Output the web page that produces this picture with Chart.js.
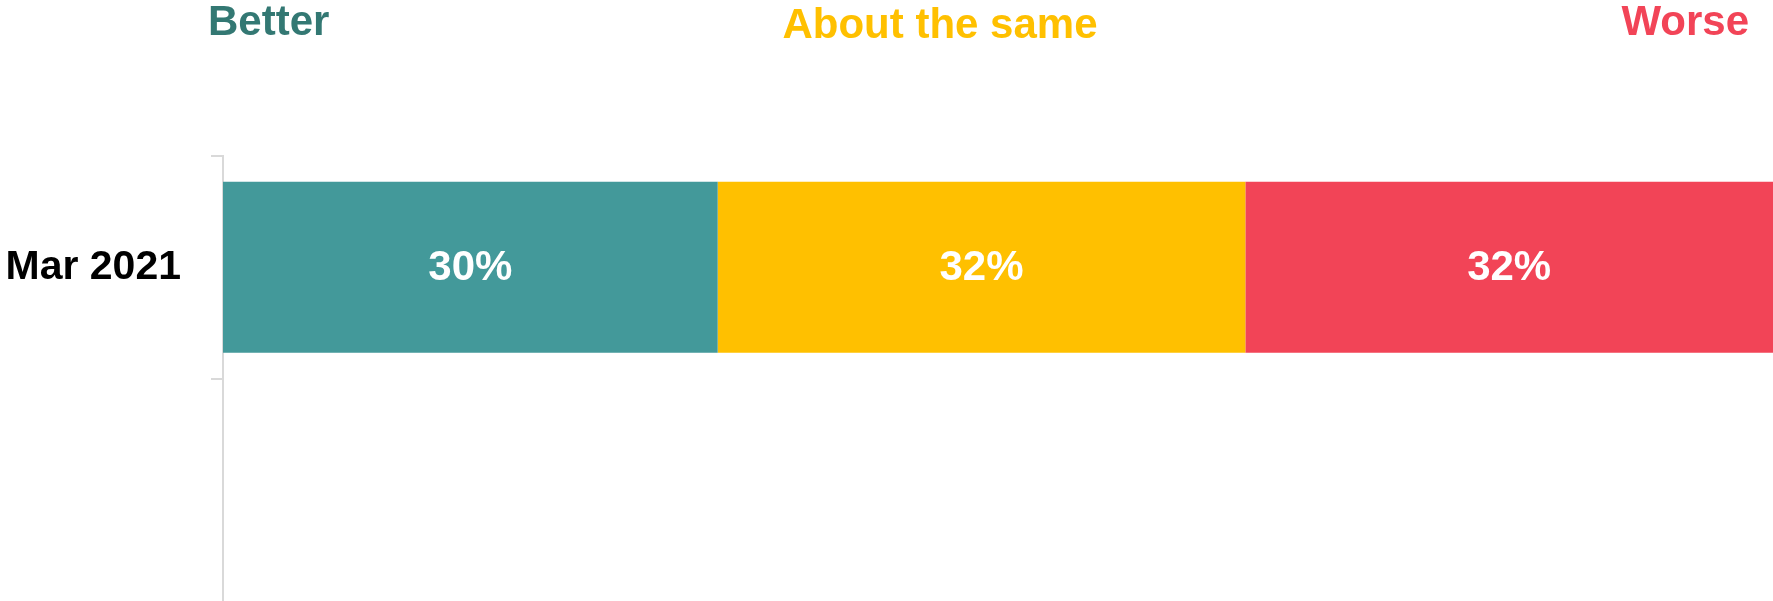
<!DOCTYPE html>
<html>
<head>
<meta charset="utf-8">
<script src="https://cdn.jsdelivr.net/npm/chart.js@4/dist/chart.umd.min.js"></script>
<style>
  html, body { margin: 0; padding: 0; background: #fff; }
  #wrap { width: 1773px; height: 601px; position: relative; }
</style>
</head>
<body>
<div id="wrap"><canvas id="chart"></canvas></div>
<script>
// survey periods (second row left blank)
var periods = ['Mar 2021', ''];

var seriesNames = ['Better', 'About the same', 'Worse'];
var better = [30, null];
var aboutSame = [32, null];
var worse = [32, null];

var barColors = ['#43999A', '#FFC000', '#F24457'];
var headerColors = ['#337873', '#FFC000', '#F24457'];

var FONT = '"Liberation Sans", Arial, sans-serif';

// header labels across the top, one per series
var headerPlugin = {
  id: 'headers',
  afterDraw: function(chart, args, opts) {
    var ctx = chart.ctx;
    ctx.save();
    ctx.font = 'bold 42px ' + FONT;
    ctx.textBaseline = 'alphabetic';
    chart.data.datasets.forEach(function(ds, i) {
      var p = opts.spots[i];
      ctx.fillStyle = headerColors[i];
      ctx.textAlign = p.align;
      ctx.fillText(ds.label, p.x, p.y);
    });
    ctx.restore();
  }
};

// white percentage in the middle of each segment
var valuePlugin = {
  id: 'values',
  afterDatasetsDraw: function(chart) {
    var ctx = chart.ctx;
    ctx.save();
    ctx.font = 'bold 42px ' + FONT;
    ctx.fillStyle = '#ffffff';
    ctx.textAlign = 'center';
    ctx.textBaseline = 'middle';
    chart.data.datasets.forEach(function(ds, i) {
      chart.getDatasetMeta(i).data.forEach(function(bar, j) {
        if (ds.data[j] == null) return;
        var c = bar.getCenterPoint();
        ctx.fillText(ds.data[j] + '%', c.x, c.y + 1);
      });
    });
    ctx.restore();
  }
};

var total = better[0] + aboutSame[0] + worse[0];

var ctx = document.getElementById('chart').getContext('2d');
var chart = new Chart(ctx, {
  type: 'bar',
  data: {
    labels: periods,
    datasets: [
      { label: seriesNames[0], data: better, backgroundColor: barColors[0] },
      { label: seriesNames[1], data: aboutSame, backgroundColor: barColors[1] },
      { label: seriesNames[2], data: worse, backgroundColor: barColors[2] }
    ]
  },
  plugins: [headerPlugin, valuePlugin],
  options: {
    indexAxis: 'y',
    responsive: true,
    maintainAspectRatio: false,
    animation: false,
    categoryPercentage: 0.8,
    barPercentage: 0.96,
    layout: { padding: { top: 156, left: 0, right: 0, bottom: 0 } },
    scales: {
      x: {
        stacked: true,
        display: false,
        min: 0,
        max: total
      },
      y: {
        stacked: true,
        // fixed gutter, and no extra room above/below for the labels
        afterFit: function(scale) {
          scale.width = 223;
          scale.paddingTop = 0;
          scale.paddingBottom = 0;
        },
        grid: {
          offset: true,
          drawOnChartArea: false,
          tickLength: 12,
          // the closing line after the last row has no tick context; leave it out
          color: function(c) {
            return c.tick ? '#d9d9d9' : 'rgba(0,0,0,0)';
          },
          lineWidth: 2
        },
        border: { color: '#d9d9d9', width: 2 },
        ticks: {
          color: '#000000',
          padding: 30,
          font: { family: FONT, size: 41, weight: 'bold' }
        }
      }
    },
    plugins: {
      legend: { display: false },
      tooltip: { enabled: false },
      headers: {
        spots: [
          { x: 208, y: 35, align: 'left' },
          { x: 940, y: 38, align: 'center' },
          { x: 1749, y: 35, align: 'right' }
        ]
      }
    }
  }
});
</script>
</body>
</html>
